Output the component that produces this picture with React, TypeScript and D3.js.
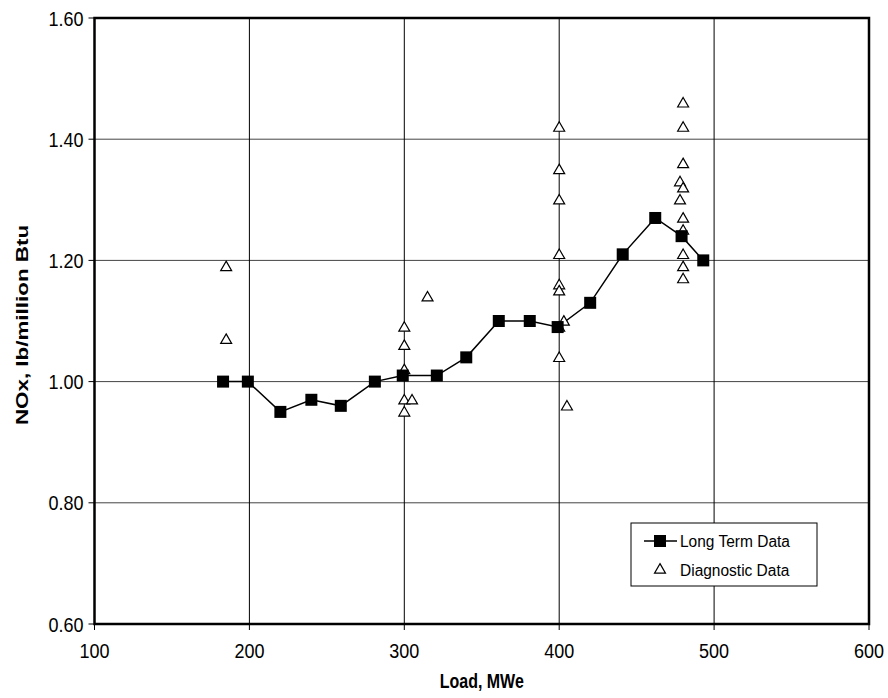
import React from "react";
import * as d3 from "d3";

const longTermLoad = [183, 199, 220, 240, 259, 281, 299, 321, 340, 361, 381, 399, 420, 441, 462, 479, 493];
const longTermNOx = [1.0, 1.0, 0.95, 0.97, 0.96, 1.0, 1.01, 1.01, 1.04, 1.1, 1.1, 1.09, 1.13, 1.21, 1.27, 1.24, 1.2];

const diagLoad = [185, 185, 300, 300, 300, 300, 300, 305, 315, 400, 400, 400, 400, 400, 400, 400, 403, 400, 405, 480, 480, 480, 478, 480, 478, 480, 480, 480, 480, 480];
const diagNOx = [1.19, 1.07, 1.09, 1.06, 1.02, 0.97, 0.95, 0.97, 1.14, 1.42, 1.35, 1.3, 1.21, 1.16, 1.15, 1.09, 1.1, 1.04, 0.96, 1.46, 1.42, 1.36, 1.33, 1.32, 1.3, 1.27, 1.25, 1.21, 1.19, 1.17];

const xTicks = [100, 200, 300, 400, 500, 600];
const yTicks = [0.6, 0.8, 1.0, 1.2, 1.4, 1.6];

const legendLabels = ["Long Term Data", "Diagnostic Data"];

export default function App() {
  const W = 888, H = 698;
  const left = 94.5, right = 869, top = 18, bottom = 624;
  const x = d3.scaleLinear().domain([100, 600]).range([left, right]);
  const y = d3.scaleLinear().domain([0.6, 1.6]).range([bottom, top]);
  const line = d3.line<number>().x((_, i) => x(longTermLoad[i])).y((d) => y(d));
  const tri = d3.symbol().type(d3.symbolTriangle).size(52)() as string;
  const font = "'Liberation Sans', Arial, sans-serif";
  const sq = 12;
  const sy = 1.17;

  return (
    <svg width={W} height={H} style={{ position: "absolute", left: 0, top: 0 }} fontFamily={font}>
      <rect x={0} y={0} width={W} height={H} fill="white" />
      {/* grid */}
      {yTicks.filter((t) => t > 0.6 && t < 1.6).map((t) => (
        <line key={"gy" + t} x1={left} x2={right} y1={y(t)} y2={y(t)} stroke="#444" strokeWidth={1} />
      ))}
      {xTicks.filter((t) => t > 100 && t < 600).map((t) => (
        <line key={"gx" + t} x1={x(t)} x2={x(t)} y1={top} y2={bottom} stroke="#000" strokeWidth={1} />
      ))}
      {/* ticks */}
      {yTicks.map((t) => (
        <g key={"ty" + t}>
          <line x1={left - 6} x2={left} y1={y(t)} y2={y(t)} stroke="#000" strokeWidth={1} />
          <text transform={`translate(${left - 11},${y(t)}) scale(1,${sy})`} dy="0.36em" textAnchor="end" fontSize={18} fill="#000">
            {t.toFixed(2)}
          </text>
        </g>
      ))}
      {xTicks.map((t) => (
        <g key={"tx" + t}>
          <line x1={x(t)} x2={x(t)} y1={bottom} y2={bottom + 6} stroke="#000" strokeWidth={1} />
          <text transform={`translate(${x(t)},${658}) scale(1,${sy})`} textAnchor="middle" fontSize={18} fill="#000">
            {t}
          </text>
        </g>
      ))}
      {/* frame */}
      <rect x={left} y={top} width={right - left} height={bottom - top} fill="none" stroke="#000" strokeWidth={2.5} />
      {/* long term line */}
      <path d={line(longTermNOx) as string} fill="none" stroke="#000" strokeWidth={1.5} />
      {/* diagnostic triangles */}
      {diagNOx.map((v, i) => (
        <path key={"d" + i} d={tri} transform={`translate(${x(diagLoad[i])},${y(v) + 1})`} fill="white" stroke="#000" strokeWidth={1.2} />
      ))}
      {longTermNOx.map((v, i) => (
        <rect key={"s" + i} x={x(longTermLoad[i]) - sq / 2} y={y(v) - sq / 2} width={sq} height={sq} fill="#000" />
      ))}
      {/* legend */}
      <g>
        <rect x={631} y={523} width={186} height={63} fill="white" stroke="#000" strokeWidth={1} />
        <line x1={644} x2={677} y1={541} y2={541} stroke="#000" strokeWidth={1.5} />
        <rect x={660 - sq / 2} y={541 - sq / 2} width={sq} height={sq} fill="#000" />
        <text transform={`translate(680,541) scale(1,1.1)`} dy="0.36em" fontSize={15.5} fill="#000">{legendLabels[0]}</text>
        <path d={tri} transform={`translate(660,${570})`} fill="white" stroke="#000" strokeWidth={1.2} />
        <text transform={`translate(680,570) scale(1,1.1)`} dy="0.36em" fontSize={15.5} fill="#000">{legendLabels[1]}</text>
      </g>
      {/* axis titles */}
      <text transform={`translate(${(left + right) / 2},688) scale(1,1.3)`} textAnchor="middle" fontSize={16} fontWeight="bold" fill="#000">
        Load, MWe
      </text>
      <text transform={`translate(28,${(top + bottom) / 2 + 4}) rotate(-90) scale(1.4,1)`} textAnchor="middle" fontSize={16} fontWeight="bold" fill="#000">
        NOx, lb/million Btu
      </text>
    </svg>
  );
}
